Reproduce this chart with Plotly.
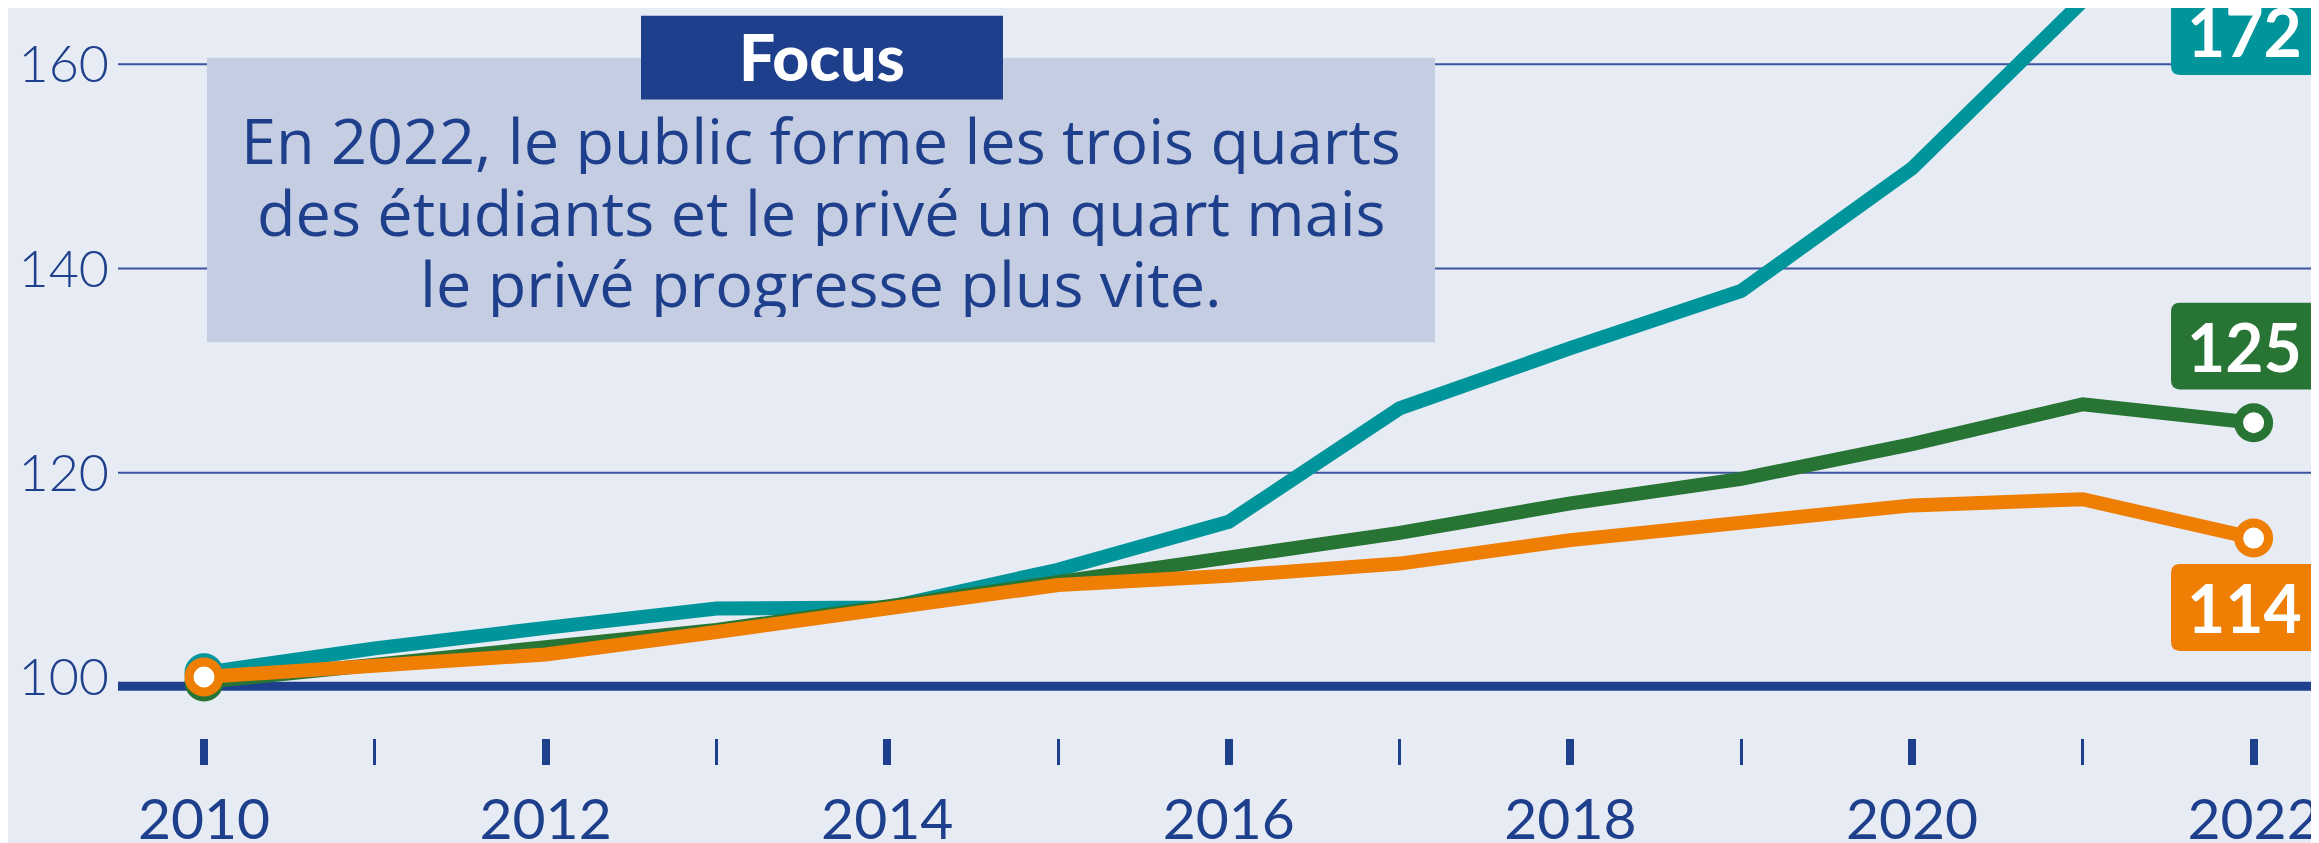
'''
    Évolution des effectifs étudiants (indice base 100 en 2010)
    selon le secteur : public, privé et ensemble.
'''
import plotly.graph_objects as go

W, H = 2319, 843
MARGIN = dict(l=110, r=2, t=0, b=94)

BG = '#e6ebf4'
PALE = '#c5cde2'
DARK_BLUE = '#1e3f8c'
GRID = '#3a55a0'
TEAL = '#00949b'
GREEN = '#277434'
ORANGE = '#ee7e04'

years = list(range(2010, 2023))

# indice 100 en 2010
series = {
    'Privé': dict(
        color=TEAL,
        values=[100.4, 102.8, 104.8, 106.7, 106.8, 110.5, 115.2,
                126.3, 132.2, 137.8, 149.8, 166.2, 172.0],
        label_y=163.2,
    ),
    'Ensemble': dict(
        color=GREEN,
        values=[99.5, 101.2, 102.8, 104.6, 106.9, 109.2, 111.5,
                114.1, 117.0, 119.4, 122.8, 126.7, 124.9],
        label_y=132.4,
    ),
    'Public': dict(
        color=ORANGE,
        values=[100.0, 101.0, 102.2, 104.4, 106.8, 109.0, 109.9,
                111.1, 113.4, 115.2, 116.8, 117.4, 113.6],
        label_y=106.8,
    ),
}

plot_w = W - MARGIN['l'] - MARGIN['r']
plot_h = H - MARGIN['t'] - MARGIN['b']


def px_x(p):
    '''Converts a horizontal figure pixel to paper coordinates.'''
    return (p - MARGIN['l']) / plot_w


def px_y(p):
    '''Converts a vertical figure pixel to paper coordinates.'''
    return 1 - (p - MARGIN['t']) / plot_h


def rounded_box(x0, x1, y0, y1, rx, ry):
    '''SVG path of a rectangle with rounded corners.'''
    return (f'M {x0 + rx} {y0} L {x1 - rx} {y0} Q {x1} {y0} {x1} {y0 + ry} '
            f'L {x1} {y1 - ry} Q {x1} {y1} {x1 - rx} {y1} '
            f'L {x0 + rx} {y1} Q {x0} {y1} {x0} {y1 - ry} '
            f'L {x0} {y0 + ry} Q {x0} {y0} {x0 + rx} {y0} Z')


fig = go.Figure()

for name, s in series.items():
    n = len(s['values'])
    fig.add_trace(go.Scatter(
        x=years,
        y=s['values'],
        name=name,
        mode='lines+markers',
        line=dict(color=s['color'], width=14),
        marker=dict(
            size=30,
            color='white',
            line=dict(color=s['color'], width=9),
            opacity=[1 if i in (0, n - 1) else 0 for i in range(n)],
        ),
        hoverinfo='skip',
    ))

# grille et ligne de base
for v in (120, 140, 160):
    fig.add_hline(y=v, line=dict(color=GRID, width=2), layer='below')
fig.add_hline(y=99.1, line=dict(color=DARK_BLUE, width=9), layer='below')

# étiquettes des valeurs 2022
box_h = 8.5
for name, s in series.items():
    yc = s['label_y']
    fig.add_shape(
        type='path',
        xref='paper', yref='y',
        path=rounded_box(px_x(2163), px_x(2330), yc - box_h / 2, yc + box_h / 2,
                         9 / plot_w, 0.9),
        fillcolor=s['color'], line_width=0, layer='above',
    )
    fig.add_annotation(
        x=px_x(2236), y=yc, xref='paper', yref='y',
        text=f"{s['values'][-1]:.0f}", showarrow=False,
        xanchor='center', yanchor='middle',
        font=dict(family='Lato', size=66, color='white', weight='bold'),
    )

# encadré Focus
fig.add_shape(
    type='rect', xref='paper', yref='paper',
    x0=px_x(199), x1=px_x(1427), y0=px_y(343), y1=px_y(51),
    fillcolor=PALE, line_width=0, layer='above',
)
fig.add_shape(
    type='rect', xref='paper', yref='paper',
    x0=px_x(633), x1=px_x(995), y0=px_y(94), y1=px_y(8),
    fillcolor=DARK_BLUE, line_width=0, layer='above',
)
fig.add_annotation(
    x=px_x(814), y=px_y(50), xref='paper', yref='paper',
    text='Focus', showarrow=False, xanchor='center', yanchor='middle',
    font=dict(family='Lato', size=64, color='white', weight=900),
)
lines = [
    'En 2022, le public forme les trois quarts',
    'des étudiants et le privé un quart mais',
    'le privé progresse plus vite.',
]
for line, baseline in zip(lines, (156, 230, 303)):
    fig.add_annotation(
        x=px_x(813), y=px_y(baseline - 22), xref='paper', yref='paper',
        text=line, showarrow=False, xanchor='center', yanchor='middle',
        height=70, valign='middle',
        font=dict(family='Open Sans', size=63, color=DARK_BLUE),
    )

x0 = 2010 - (196 - MARGIN['l']) / 170.8
fig.update_xaxes(
    range=[x0, x0 + plot_w / 170.8],
    tick0=2010, dtick=2,
    ticks='outside', ticklen=26, tickwidth=8, tickcolor=DARK_BLUE,
    minor=dict(dtick=1, tick0=2010, ticks='outside', ticklen=26,
               tickwidth=3, tickcolor=DARK_BLUE),
    showgrid=False, showline=False, zeroline=False,
    tickfont=dict(family='Lato', size=57, color=DARK_BLUE),
    ticklabelstandoff=6,
)
fig.update_yaxes(
    range=[94.02, 165.51],
    tickvals=[100, 120, 140, 160],
    showgrid=False, showline=False, zeroline=False,
    tickfont=dict(family='Lato', size=52, color=DARK_BLUE, weight=300),
    ticklabelstandoff=8,
)
fig.update_layout(
    width=W, height=H,
    margin=MARGIN,
    paper_bgcolor=BG,
    plot_bgcolor=BG,
    showlegend=False,
)

fig.write_html('out.html')
